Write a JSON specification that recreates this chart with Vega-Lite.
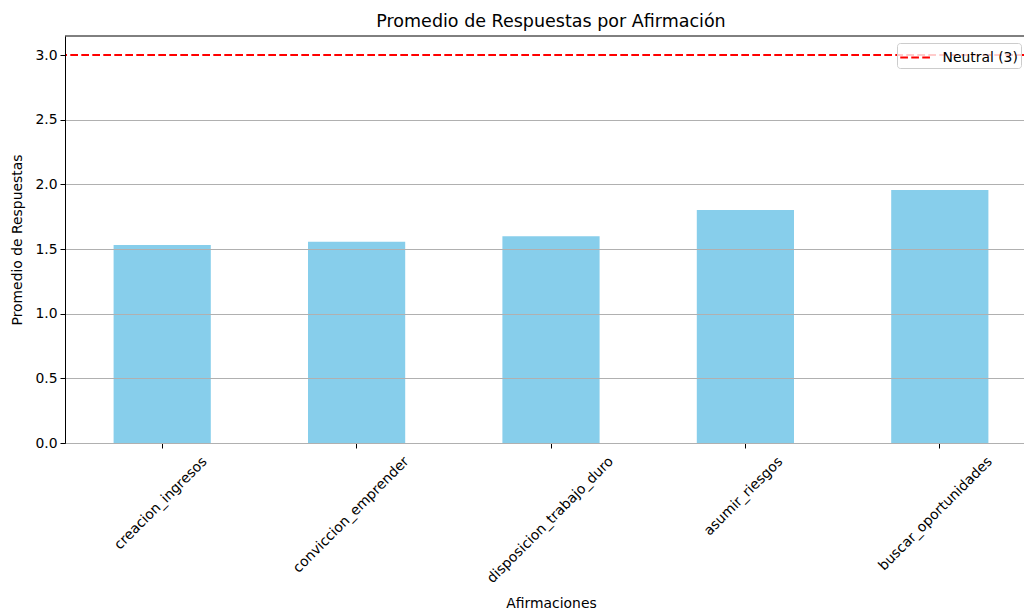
{
  "$schema": "https://vega.github.io/schema/vega-lite/v6.json",
  "width": 959,
  "height": 407,
  "autosize": {"type": "none"},
  "padding": {"left": 65, "top": 36, "right": 0, "bottom": 169},
  "background": "white",
  "config": {
    "font": "DejaVu Sans",
    "view": {"stroke": null},
    "axis": {
      "labelFont": "DejaVu Sans",
      "titleFont": "DejaVu Sans",
      "labelFontSize": 13.9,
      "titleFontSize": 13.9,
      "titleFontWeight": "normal",
      "labelColor": "black",
      "titleColor": "black",
      "domainColor": "black",
      "domainWidth": 1,
      "tickColor": "black",
      "tickWidth": 1,
      "tickSize": 5
    }
  },
  "title": {
    "text": "Promedio de Respuestas por Afirmación",
    "fontSize": 17.5,
    "fontWeight": "normal",
    "font": "DejaVu Sans",
    "color": "black",
    "anchor": "middle",
    "frame": "group",
    "baseline": "bottom",
    "offset": 7,
    "dx": 6.5,
    "dy": 20
  },
  "datasets": {
    "bars": [
      {"afirmacion": "creacion_ingresos", "promedio": 1.531},
      {"afirmacion": "conviccion_emprender", "promedio": 1.557},
      {"afirmacion": "disposicion_trabajo_duro", "promedio": 1.598},
      {"afirmacion": "asumir_riesgos", "promedio": 1.801},
      {"afirmacion": "buscar_oportunidades", "promedio": 1.956}
    ],
    "neutral": [{"label": "Neutral (3)", "value": 3}],
    "frame": [{"top": 3.147}]
  },
  "layer": [
    {
      "data": {"name": "bars"},
      "mark": {"type": "bar", "color": "#87CEEB"},
      "encoding": {
        "x": {
          "field": "afirmacion",
          "type": "nominal",
          "sort": null,
          "scale": {"range": [0, 972], "paddingInner": 0.5, "paddingOuter": 0.25},
          "axis": {
            "title": "Afirmaciones",
            "labelAngle": -45,
            "labelAlign": "right",
            "labelBaseline": "top",
            "labelPadding": 6,
            "labelOverlap": false,
            "labelBound": false,
            "labelOffset": {"expr": "length(datum.value) * 2.51 - 4.95"},
            "grid": false,
            "titleY": 164,
            "titleBaseline": "alphabetic",
            "titleX": 486
          }
        },
        "y": {
          "field": "promedio",
          "type": "quantitative",
          "scale": {"domain": [0, 3.147], "nice": false, "zero": true},
          "axis": {
            "title": "Promedio de Respuestas",
            "values": [0, 0.5, 1, 1.5, 2, 2.5, 3],
            "format": ".1f",
            "grid": true,
            "gridColor": "#b0b0b0",
            "gridWidth": 1,
            "gridOpacity": {"condition": {"test": "datum.value == 3", "value": 0}, "value": 1},
            "labelPadding": 3,
            "titleX": -47.5,
            "titleBaseline": "middle",
            "zindex": 1
          }
        }
      }
    },
    {
      "data": {"name": "neutral"},
      "mark": {"type": "rule", "strokeWidth": 2},
      "encoding": {
        "y": {"field": "value", "type": "quantitative"},
        "color": {
          "field": "label",
          "type": "nominal",
          "scale": {"range": ["#ff0000"]},
          "legend": {
            "title": null,
            "orient": "none",
            "legendX": 832,
            "legendY": 7,
            "symbolType": "M-1.5,0H1.5",
            "symbolStrokeWidth": 2,
            "symbolSize": 441,
            "symbolOffset": 4.5,
            "labelOffset": 15,
            "labelFontSize": 13.9,
            "labelFont": "DejaVu Sans",
            "labelColor": "black",
            "fillColor": "rgba(255,255,255,0.8)",
            "strokeColor": "#cccccc",
            "cornerRadius": 3,
            "padding": 3
          }
        },
        "strokeDash": {
          "field": "label",
          "type": "nominal",
          "scale": {"range": [[7.7, 3.3]]},
          "legend": {
            "title": null,
            "orient": "none",
            "legendX": 832,
            "legendY": 7,
            "symbolType": "M-1.5,0H1.5",
            "symbolStrokeWidth": 2,
            "symbolSize": 441,
            "symbolOffset": 4.5,
            "labelOffset": 15,
            "labelFontSize": 13.9,
            "labelFont": "DejaVu Sans",
            "labelColor": "black",
            "fillColor": "rgba(255,255,255,0.8)",
            "strokeColor": "#cccccc",
            "cornerRadius": 3,
            "padding": 3
          }
        }
      }
    },
    {
      "data": {"name": "frame"},
      "mark": {"type": "rule", "color": "black", "strokeWidth": 1},
      "encoding": {"y": {"field": "top", "type": "quantitative"}}
    }
  ]
}
